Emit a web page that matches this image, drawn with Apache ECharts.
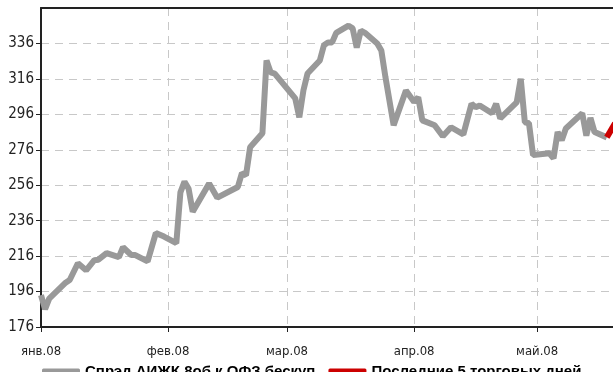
<!DOCTYPE html>
<html>
<head>
<meta charset="utf-8">
<script src="https://cdn.jsdelivr.net/npm/echarts@6/dist/echarts.min.js"></script>
<style>
  html, body { margin: 0; padding: 0; background: #fff; }
  #chart { width: 613px; height: 372px; }
</style>
</head>
<body>
<div id="chart"></div>
<script>
// spread, bp
var spreadDates = [
  "2008-01-01", "2008-01-02", "2008-01-03", "2008-01-07", "2008-01-08", "2008-01-10",
  "2008-01-12", "2008-01-14", "2008-01-15", "2008-01-17", "2008-01-20", "2008-01-21",
  "2008-01-23", "2008-01-24", "2008-01-27", "2008-01-29", "2008-01-30", "2008-01-31",
  "2008-02-03", "2008-02-04", "2008-02-05", "2008-02-06", "2008-02-07", "2008-02-11",
  "2008-02-13", "2008-02-18", "2008-02-19", "2008-02-20", "2008-02-21", "2008-02-24",
  "2008-02-25", "2008-02-26", "2008-02-27", "2008-03-03", "2008-03-04", "2008-03-05",
  "2008-03-06", "2008-03-09", "2008-03-10", "2008-03-11", "2008-03-12", "2008-03-13",
  "2008-03-16", "2008-03-17", "2008-03-18", "2008-03-19", "2008-03-20", "2008-03-23",
  "2008-03-24", "2008-03-25", "2008-03-27", "2008-03-30", "2008-04-01", "2008-04-02",
  "2008-04-03", "2008-04-06", "2008-04-08", "2008-04-10", "2008-04-13", "2008-04-15",
  "2008-04-16", "2008-04-17", "2008-04-20", "2008-04-21", "2008-04-22", "2008-04-26",
  "2008-04-27", "2008-04-28", "2008-04-29", "2008-04-30", "2008-05-04", "2008-05-05",
  "2008-05-06", "2008-05-07", "2008-05-08", "2008-05-12", "2008-05-13", "2008-05-14",
  "2008-05-15", "2008-05-18"
];
var spreadValues = [
  194, 186, 192, 201, 202.5, 212,
  208, 213.7, 214, 217.7, 215.4, 221,
  216.6, 216.6, 213, 229, 228, 227,
  223.3, 252, 258, 254, 241, 257,
  249, 255, 262.8, 261.6, 277.4, 285.3,
  326.4, 319.7, 319, 305, 294.3, 309.5,
  319, 326.4, 335, 336.6, 336.6, 342,
  346, 344.5, 333.7, 343.3, 342, 336,
  332, 317, 289.8, 309.5, 303, 305.6,
  292.6, 289.8, 283.6, 288.7, 284.7, 302,
  300, 301, 296.6, 302, 293.7, 302.7,
  316, 291.5, 291, 273, 274, 271.2,
  286, 281.4, 288, 296.6, 284, 294,
  286, 283
];
var lastDates = ["2008-05-18", "2008-05-20"];
var lastValues = [283, 291];

var monthLabels = ["янв.08", "фев.08", "мар.08", "апр.08", "май.08", "июн.08"];
var seriesNames = ["Спрэд АИЖК 8об к ОФЗ бескуп", "Последние 5 торговых дней"];

var narrow = "'Liberation Sans Narrow', 'Arial Narrow', 'DejaVu Sans Condensed', sans-serif";
var xMin = new Date(2008, 0, 1).getTime();
var xMax = new Date(2008, 4, 19, 12).getTime();

function pairs(d, v) {
  return d.map(function (s, i) { return [s, v[i]]; });
}

var chart = echarts.init(document.getElementById("chart"));
chart.setOption({
  animation: false,
  grid: { left: 41, right: 0, top: 8, bottom: 45 },
  legend: {
    left: 37,
    top: 359,
    itemWidth: 38,
    itemHeight: 6,
    itemGap: 13,
    icon: "roundRect",
    textStyle: {
      fontFamily: "'Liberation Sans', Arial, sans-serif",
      fontWeight: "bold",
      fontSize: 15,
      color: "#000"
    },
    data: seriesNames
  },
  xAxis: [
    {
      type: "time",
      min: xMin,
      max: xMax,
      minInterval: 28 * 86400000,
      maxInterval: 31 * 86400000,
      axisLine: { lineStyle: { color: "#222", width: 2 } },
      axisTick: { show: true, length: 5, lineStyle: { color: "#222" } },
      axisLabel: {
        margin: 18,
        fontFamily: narrow,
        fontSize: 13,
        color: "#222",
        showMaxLabel: false,
        formatter: function (v) {
          return monthLabels[new Date(v).getMonth()];
        }
      },
      splitLine: {
        show: true,
        lineStyle: { color: "#c8c8c8", type: [8, 6], width: 1 }
      }
    },
    {
      type: "time",
      position: "top",
      min: xMin,
      max: xMax,
      axisLine: { show: true, lineStyle: { color: "#222", width: 2 } },
      axisTick: { show: false },
      axisLabel: { show: false },
      splitLine: { show: false }
    }
  ],
  yAxis: {
    type: "value",
    min: 176,
    max: 356,
    interval: 20,
    axisLine: { show: true, lineStyle: { color: "#222", width: 2 } },
    axisTick: { show: true, length: 5, lineStyle: { color: "#222" } },
    axisLabel: {
      margin: 7,
      fontFamily: narrow,
      fontSize: 15,
      color: "#222",
      showMaxLabel: false
    },
    splitLine: {
      show: true,
      lineStyle: { color: "#c8c8c8", type: [8, 6], width: 1 }
    }
  },
  series: [
    {
      name: seriesNames[0],
      type: "line",
      showSymbol: false,
      symbol: "none",
      color: "#999999",
      lineStyle: { color: "#999999", width: 6 },
      data: pairs(spreadDates, spreadValues),
      z: 2
    },
    {
      name: seriesNames[1],
      type: "line",
      showSymbol: false,
      symbol: "none",
      color: "#cc0000",
      lineStyle: { color: "#cc0000", width: 6 },
      data: pairs(lastDates, lastValues),
      z: 3
    }
  ]
});
</script>
</body>
</html>
